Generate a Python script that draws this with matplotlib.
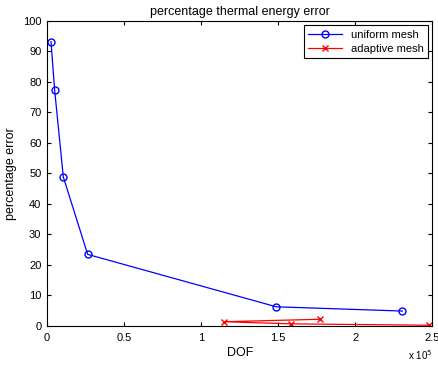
import matplotlib
matplotlib.use("Agg")
import matplotlib.pyplot as plt

# values (DOF in units of 1e5)
uniform_dof = [0.026, 0.05, 0.106, 0.264, 1.487, 2.305]
uniform_err = [93.2, 77.2, 48.8, 23.4, 6.2, 4.8]
adaptive_dof = [1.768, 1.149, 1.582, 2.475]
adaptive_err = [2.1, 1.3, 0.6, 0.15]

plt.rcParams['font.family'] = ['Liberation Sans', 'DejaVu Sans']
plt.rcParams['font.size'] = 8

fig = plt.figure(figsize=(4.39, 3.68), dpi=100)
ax = fig.add_axes([0.107, 0.115, 0.878, 0.828])

ax.plot(uniform_dof, uniform_err, color='blue', marker='o', markersize=5,
        markerfacecolor='none', linewidth=0.9, label='uniform mesh')
ax.plot(adaptive_dof, adaptive_err, color='red', marker='x', markersize=4,
        linewidth=0.9, label='adaptive mesh')

ax.set_xlim(0, 2.5)
ax.set_ylim(0, 100)
ax.set_xticks([0, 0.5, 1, 1.5, 2, 2.5])
ax.set_xticklabels(['0', '0.5', '1', '1.5', '2', '2.5'])
ax.set_yticks(range(0, 101, 10))
ax.tick_params(direction='in', top=True, right=True, length=3)
ax.tick_params(axis='x', pad=5)
ax.tick_params(axis='y', pad=4)
ax.set_xlabel('DOF', fontsize=9, labelpad=3)
ax.set_ylabel('percentage error', fontsize=9, labelpad=4)
ax.set_title('percentage thermal energy error', fontsize=9, pad=4)
ax.text(1.0, -0.075, r'x 10$^5$', transform=ax.transAxes, ha='right',
        va='top', fontsize=7)

leg = ax.legend(loc='upper right', fontsize=8, fancybox=False,
                edgecolor='black', framealpha=1, handlelength=3,
                borderpad=0.4, labelspacing=0.35, borderaxespad=0.4)
leg.get_frame().set_linewidth(0.8)

fig.savefig('out.png', dpi=100)
